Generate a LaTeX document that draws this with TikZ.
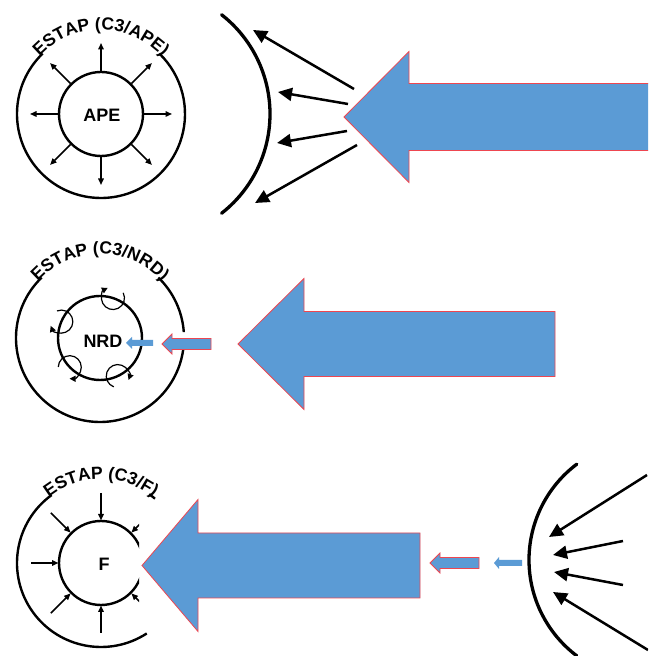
\documentclass[tikz,border=0pt]{standalone}
\usepackage{fontspec}
\setmainfont{Liberation Sans}
\usetikzlibrary{arrows.meta,decorations.text}
\definecolor{arrowblue}{RGB}{91,155,213}
\definecolor{edgered}{RGB}{238,70,80}
\tikzset{
  bluearrow/.style={fill=arrowblue, draw=edgered, line width=0.8pt, line join=miter},
  blueplain/.style={fill=arrowblue, draw=none},
  ring/.style={line width=2.4pt},
  lens/.style={line width=3.3pt, line cap=round},
  ray/.style={line width=2.5pt, -{Triangle[length=14pt,width=13pt]}},
  radial/.style={line width=1.5pt, -{Triangle[length=6.5pt,width=5.5pt]}},
  spin/.style={line width=1.2pt, -{Triangle[length=6pt,width=6pt]}},
  label/.style={font=\fontsize{18}{18}\selectfont\bfseries, inner sep=0pt},
}
\newcommand{\fatarrow}[7][]{%
  \path[bluearrow,#1] ({#2},{#3}) -- ({#4},{#3+#7}) -- ({#4},{#3+#6}) -- ({#5},{#3+#6})
    -- ({#5},{#3-#6}) -- ({#4},{#3-#6}) -- ({#4},{#3-#7}) -- cycle;}
\newcommand{\ringtext}[2]{%
  \path[decorate,decoration={text along path,text align=center,
    text={|\fontsize{17.5}{17.5}\selectfont\bfseries|#2}}]
    ([shift={(137:84)}]#1) arc[start angle=137,end angle=43,radius=84];}
\begin{document}
\begin{tikzpicture}[x=1pt,y=1pt]
\clip (0,0) rectangle (648,656);
\fill[white] (0,0) rectangle (648,656);

% ---------------- panel 1 (APE) ----------------
\coordinate (c1) at (101,542);
\draw[ring] ([shift={(134:84)}]c1) arc[start angle=134,end angle=406,radius=84];
\draw[ring] (c1) circle[radius=42];
\ringtext{c1}{ESTAP (C3/APE)}
\node[label] (ape) at (102,541) {APE};
\foreach \a in {0,90,180,270}
  \draw[radial] ([shift={(\a:43)}]c1) -- ([shift={(\a:71)}]c1);
\foreach \a in {45,135,225,315}
  \draw[radial] ([shift={(\a:43)}]c1) -- ([shift={(\a:72)}]c1);

\coordinate (l1) at (144,542);
\draw[lens] ([shift={(-52:126)}]l1) arc[start angle=-52,end angle=52,radius=126];
\coordinate (r1a) at (354,567); \coordinate (t1a) at (253,626);
\coordinate (r1b) at (348,552); \coordinate (t1b) at (278,564);
\coordinate (r1c) at (347,525); \coordinate (t1c) at (277,513);
\coordinate (r1d) at (357,511); \coordinate (t1d) at (255,453);
\draw[ray] (r1a) -- (t1a);
\draw[ray] (r1b) -- (t1b);
\draw[ray] (r1c) -- (t1c);
\draw[ray] (r1d) -- (t1d);
\fatarrow{344}{539}{409}{652}{33.5}{65.5}

% ---------------- panel 2 (NRD) ----------------
\coordinate (c2) at (100,318);
\draw[ring] ([shift={(134:84)}]c2) arc[start angle=134,end angle=353,radius=84];
\draw[ring] ([shift={(4:84)}]c2) arc[start angle=4,end angle=46,radius=84];
\draw[ring] (c2) circle[radius=42];
\ringtext{c2}{ESTAP (C3/NRD)}
\node[label] (nrd) at (103,315) {NRD};
\foreach \p in {72,157,224,295}{
  \pgfmathsetmacro{\e}{\p+45}
  \pgfmathsetmacro{\s}{\p+315}
  \draw[spin] ([shift={(\p:42)}]c2) ++(\s:11.5) arc[start angle=\s,end angle=\e,radius=11.5];
}
\fatarrow{162}{312}{172}{211}{5.5}{10}
\fatarrow[blueplain]{126}{313}{132}{153}{3}{6}
\fatarrow{238}{312}{304}{555}{32.5}{65.5}

% ---------------- panel 3 (F) ----------------
\coordinate (c3) at (101,93);
\draw[ring] ([shift={(126:84)}]c3) arc[start angle=126,end angle=303,radius=84];
\draw[ring] ([shift={(50:84)}]c3) arc[start angle=50,end angle=55,radius=84];
\ringtext{c3}{ESTAP (C3/F)}
\begin{scope}
  \clip (0,0) rectangle (139,656);
  \draw[ring] (c3) circle[radius=42];
  \foreach \a in {0,90,180,270}
    \draw[radial] ([shift={(\a:70)}]c3) -- ([shift={(\a:42.5)}]c3);
  \foreach \a in {45,135,225,315}
    \draw[radial] ([shift={(\a:71)}]c3) -- ([shift={(\a:43)}]c3);
\end{scope}
\node[label] (f) at (104,92) {F};
\fatarrow{142}{90.5}{198}{420}{32.5}{66}
\fatarrow{430}{93}{440}{479}{5.5}{10}
\fatarrow[blueplain]{494}{93}{499}{522}{3}{6}

\coordinate (l3) at (649,96);
\draw[lens] ([shift={(127:120)}]l3) arc[start angle=127,end angle=233,radius=120];
\coordinate (r3a) at (647,181); \coordinate (t3a) at (549,119);
\coordinate (r3b) at (623,115); \coordinate (t3b) at (553,101);
\coordinate (r3c) at (623,71);  \coordinate (t3c) at (554,84);
\coordinate (r3d) at (648,6);   \coordinate (t3d) at (553,64);
\draw[ray] (r3a) -- (t3a);
\draw[ray] (r3b) -- (t3b);
\draw[ray] (r3c) -- (t3c);
\draw[ray] (r3d) -- (t3d);
\end{tikzpicture}
\end{document}
